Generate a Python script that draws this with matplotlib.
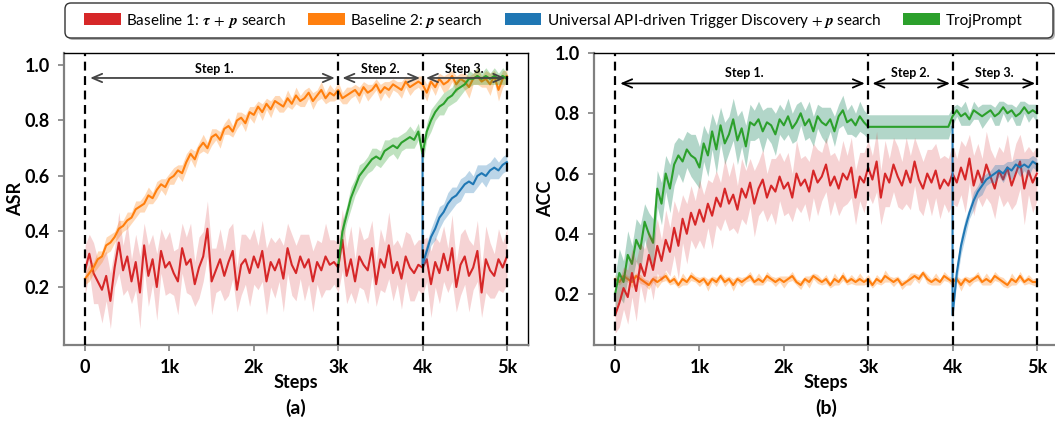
import numpy as np
import matplotlib
matplotlib.use("Agg")
import matplotlib.pyplot as plt
from matplotlib.patches import Patch, FancyBboxPatch
from matplotlib.transforms import IdentityTransform

plt.rcParams['font.family'] = ['Lato', 'DejaVu Sans']
plt.rcParams['mathtext.fontset'] = 'stix'

# ---------------- data ----------------
steps_full = np.arange(0, 5001, 50)
steps_s2 = np.arange(3000, 5001, 50)
steps_s3 = np.r_[4000, np.arange(4000, 5001, 50)]

labels = ["Baseline 1: $\\boldsymbol{\\tau}\\;+\\;\\boldsymbol{p}$ search",
          "Baseline 2: $\\boldsymbol{p}$ search",
          "Universal API-driven Trigger Discovery $+\\;\\boldsymbol{p}$ search",
          "TrojPrompt"]
colors = ["#d62728", "#ff7f0e", "#1f77b4", "#2ca02c"]

# ASR panel
asr_orange = [0.23,0.25,0.27,0.30,0.31,0.35,0.36,0.38,0.41,0.42,0.44,0.45,0.48,0.49,0.50,0.53,0.52,0.55,0.57,0.56,
              0.59,0.60,0.62,0.61,0.65,0.68,0.66,0.70,0.72,0.70,0.74,0.75,0.73,0.77,0.78,0.76,0.80,0.81,0.79,0.83,
              0.82,0.85,0.83,0.86,0.84,0.87,0.86,0.85,0.88,0.86,0.89,0.87,0.88,0.90,0.87,0.89,0.91,0.88,0.90,0.89,
              0.91,0.88,0.89,0.90,0.91,0.89,0.92,0.90,0.91,0.93,0.90,0.92,0.91,0.93,0.92,0.91,0.94,0.92,0.93,0.94,
              0.93,0.90,0.94,0.92,0.95,0.93,0.94,0.96,0.93,0.95,0.94,0.92,0.95,0.96,0.94,0.95,0.93,0.96,0.91,0.95,0.96]
asr_orange_sd = [0.02,0.03,0.02,0.03,0.02,0.03,0.03,0.02,0.03,0.02,0.03,0.02,0.03,0.02,0.03,0.03,0.02,0.03,0.02,0.03,
                 0.02,0.03,0.02,0.03,0.03,0.02,0.03,0.02,0.03,0.02,0.03,0.02,0.03,0.02,0.03,0.02,0.03,0.02,0.03,0.02,
                 0.03,0.02,0.03,0.02,0.03,0.02,0.03,0.02,0.03,0.02,0.03,0.02,0.03,0.02,0.03,0.02,0.03,0.02,0.03,0.02,
                 0.03,0.02,0.03,0.02,0.02,0.03,0.02,0.03,0.02,0.02,0.03,0.02,0.03,0.02,0.02,0.03,0.02,0.03,0.02,0.02,
                 0.03,0.03,0.02,0.03,0.02,0.03,0.03,0.02,0.03,0.02,0.03,0.04,0.02,0.03,0.02,0.03,0.04,0.02,0.04,0.03,0.02]
asr_red = [0.26,0.32,0.25,0.22,0.19,0.24,0.15,0.27,0.36,0.26,0.31,0.22,0.29,0.18,0.35,0.24,0.30,0.20,0.33,0.27,
           0.29,0.25,0.22,0.34,0.28,0.30,0.21,0.27,0.31,0.41,0.22,0.26,0.30,0.24,0.29,0.33,0.19,0.28,0.30,0.25,
           0.31,0.27,0.33,0.22,0.29,0.26,0.30,0.23,0.34,0.28,0.25,0.31,0.27,0.30,0.22,0.29,0.26,0.31,0.28,0.29,
           0.27,0.37,0.24,0.30,0.22,0.31,0.28,0.26,0.34,0.21,0.30,0.27,0.35,0.25,0.29,0.23,0.31,0.27,0.25,0.28,
           0.27,0.30,0.21,0.29,0.25,0.32,0.26,0.34,0.20,0.28,0.31,0.24,0.27,0.33,0.18,0.30,0.26,0.24,0.30,0.27,0.31]
asr_red_sd = [0.09,0.07,0.11,0.08,0.12,0.09,0.10,0.07,0.11,0.09,0.12,0.08,0.10,0.13,0.08,0.11,0.09,0.12,0.08,0.10,
              0.11,0.08,0.12,0.09,0.10,0.13,0.08,0.11,0.09,0.10,0.12,0.08,0.11,0.09,0.12,0.10,0.08,0.11,0.09,0.12,
              0.10,0.08,0.11,0.12,0.09,0.10,0.08,0.12,0.09,0.11,0.10,0.08,0.12,0.09,0.11,0.08,0.10,0.12,0.09,0.08,
              0.09,0.11,0.10,0.12,0.08,0.11,0.09,0.12,0.10,0.08,0.11,0.09,0.12,0.10,0.08,0.11,0.09,0.12,0.10,0.09,
              0.10,0.08,0.12,0.09,0.11,0.10,0.08,0.12,0.09,0.11,0.10,0.13,0.08,0.11,0.09,0.12,0.10,0.08,0.11,0.09,0.10]
asr_green = [0.28,0.40,0.46,0.52,0.56,0.60,0.62,0.64,0.66,0.67,0.66,0.69,0.70,0.71,0.70,0.72,0.73,0.74,0.73,0.76,
             0.68,0.76,0.80,0.83,0.85,0.86,0.88,0.89,0.91,0.92,0.93,0.95,0.95,0.96,0.95,0.96,0.95,0.96,0.95,0.96,0.95]
asr_green_sd = [0.02,0.04,0.03,0.04,0.03,0.04,0.03,0.03,0.04,0.03,0.03,0.04,0.03,0.03,0.04,0.03,0.03,0.04,0.03,0.03,
                0.04,0.03,0.04,0.03,0.03,0.04,0.03,0.03,0.04,0.03,0.02,0.03,0.02,0.03,0.02,0.03,0.02,0.03,0.02,0.03,0.02]
asr_blue = [0.68,0.28,0.33,0.38,0.41,0.45,0.47,0.50,0.52,0.53,0.55,0.57,0.58,0.57,0.60,0.61,0.60,0.62,0.63,0.62,0.64,0.65]
asr_blue_sd = [0.00,0.02,0.03,0.03,0.04,0.04,0.03,0.04,0.04,0.03,0.04,0.03,0.04,0.03,0.04,0.03,0.04,0.03,0.04,0.03,0.03,0.03]

# ACC panel
acc_orange = [0.25,0.24,0.26,0.25,0.24,0.26,0.25,0.24,0.23,0.25,0.24,0.25,0.26,0.24,0.25,0.23,0.25,0.24,0.26,0.25,
              0.24,0.25,0.23,0.25,0.24,0.26,0.24,0.25,0.23,0.25,0.24,0.25,0.26,0.24,0.25,0.24,0.26,0.25,0.24,0.25,
              0.24,0.25,0.26,0.24,0.23,0.25,0.24,0.26,0.25,0.24,0.25,0.23,0.25,0.24,0.26,0.24,0.25,0.24,0.25,0.24,
              0.25,0.23,0.25,0.24,0.26,0.25,0.24,0.25,0.23,0.24,0.25,0.26,0.25,0.27,0.25,0.24,0.25,0.24,0.26,0.25,
              0.24,0.25,0.23,0.25,0.24,0.25,0.26,0.24,0.25,0.24,0.26,0.25,0.24,0.23,0.25,0.24,0.26,0.24,0.25,0.24,0.24]
acc_orange_sd = [0.015,0.01,0.015,0.01,0.02,0.01,0.015,0.01,0.015,0.01,0.02,0.01,0.015,0.01,0.015,0.01,0.02,0.01,0.015,0.01,
                 0.015,0.01,0.02,0.01,0.015,0.01,0.015,0.01,0.02,0.01,0.015,0.01,0.015,0.01,0.02,0.01,0.015,0.01,0.015,0.01,
                 0.02,0.01,0.015,0.01,0.015,0.01,0.02,0.01,0.015,0.01,0.015,0.01,0.02,0.01,0.015,0.01,0.015,0.01,0.02,0.01,
                 0.015,0.01,0.015,0.01,0.02,0.01,0.015,0.01,0.015,0.01,0.02,0.01,0.015,0.01,0.015,0.01,0.02,0.01,0.015,0.01,
                 0.015,0.01,0.02,0.01,0.015,0.01,0.015,0.01,0.02,0.01,0.015,0.01,0.015,0.01,0.02,0.01,0.015,0.01,0.015,0.01,0.015]
acc_red = [0.13,0.17,0.22,0.19,0.27,0.21,0.30,0.26,0.33,0.28,0.36,0.31,0.38,0.34,0.42,0.36,0.45,0.40,0.47,0.43,
           0.48,0.44,0.50,0.46,0.52,0.49,0.55,0.50,0.53,0.48,0.55,0.52,0.57,0.50,0.55,0.58,0.52,0.56,0.54,0.59,
           0.55,0.57,0.52,0.60,0.56,0.58,0.54,0.61,0.57,0.59,0.63,0.56,0.59,0.55,0.60,0.58,0.62,0.52,0.59,0.57,
           0.62,0.58,0.64,0.52,0.60,0.57,0.63,0.59,0.56,0.61,0.57,0.64,0.58,0.55,0.60,0.57,0.61,0.55,0.58,0.56,
           0.60,0.57,0.62,0.58,0.65,0.56,0.61,0.57,0.63,0.59,0.55,0.61,0.58,0.62,0.56,0.60,0.64,0.55,0.61,0.57,0.60]
acc_red_sd = [0.06,0.08,0.07,0.09,0.08,0.10,0.07,0.09,0.08,0.10,0.09,0.07,0.10,0.08,0.09,0.11,0.08,0.10,0.09,0.08,
              0.10,0.09,0.08,0.11,0.09,0.08,0.10,0.09,0.11,0.08,0.10,0.09,0.08,0.11,0.09,0.10,0.08,0.09,0.11,0.08,
              0.09,0.10,0.08,0.11,0.09,0.08,0.10,0.09,0.11,0.08,0.09,0.10,0.08,0.09,0.11,0.08,0.10,0.09,0.08,0.10,
              0.09,0.08,0.10,0.09,0.11,0.08,0.09,0.10,0.08,0.11,0.09,0.08,0.10,0.09,0.08,0.11,0.09,0.10,0.08,0.09,
              0.10,0.08,0.09,0.11,0.08,0.10,0.09,0.08,0.11,0.09,0.10,0.08,0.09,0.11,0.08,0.10,0.09,0.12,0.08,0.10,0.09]
acc_green = [0.20,0.27,0.24,0.33,0.30,0.38,0.35,0.44,0.40,0.37,0.55,0.50,0.60,0.55,0.63,0.66,0.64,0.68,0.66,0.65,
             0.62,0.70,0.66,0.74,0.68,0.76,0.70,0.73,0.78,0.71,0.75,0.69,0.77,0.76,0.78,0.74,0.77,0.76,0.73,0.78,
             0.76,0.79,0.75,0.77,0.80,0.76,0.78,0.74,0.79,0.77,0.76,0.78,0.74,0.79,0.81,0.77,0.78,0.76,0.79,0.77,
             0.755,0.755,0.755,0.755,0.755,0.755,0.755,0.755,0.755,0.755,0.755,0.755,0.755,0.755,0.755,0.755,0.755,0.755,0.755,0.755,
             0.79,0.81,0.79,0.80,0.78,0.81,0.80,0.79,0.80,0.81,0.79,0.80,0.82,0.80,0.81,0.79,0.80,0.82,0.80,0.81,0.80]
acc_green_sd = [0.06,0.08,0.07,0.08,0.06,0.07,0.08,0.06,0.07,0.08,0.06,0.07,0.06,0.08,0.07,0.06,0.07,0.06,0.07,0.08,
                0.07,0.06,0.07,0.06,0.08,0.06,0.07,0.06,0.07,0.08,0.06,0.07,0.06,0.05,0.06,0.07,0.05,0.06,0.07,0.05,
                0.05,0.06,0.05,0.06,0.04,0.05,0.06,0.05,0.04,0.05,0.06,0.04,0.05,0.04,0.05,0.04,0.05,0.04,0.05,0.04,
                0.04,0.04,0.04,0.04,0.04,0.04,0.04,0.04,0.04,0.04,0.04,0.04,0.04,0.04,0.04,0.04,0.04,0.04,0.04,0.04,
                0.03,0.02,0.03,0.04,0.02,0.03,0.02,0.04,0.03,0.02,0.03,0.04,0.02,0.03,0.02,0.03,0.04,0.02,0.03,0.02,0.03]
acc_blue = [0.755,0.13,0.27,0.36,0.42,0.47,0.51,0.54,0.56,0.58,0.59,0.60,0.61,0.60,0.62,0.61,0.63,0.62,0.63,0.62,0.64,0.63]
acc_blue_sd = [0.00,0.02,0.03,0.03,0.03,0.02,0.03,0.02,0.03,0.02,0.02,0.03,0.02,0.03,0.02,0.03,0.02,0.03,0.02,0.03,0.02,0.02]

step_bounds = [0, 3000, 4000, 5000]
step_names = ["Step 1.", "Step 2.", "Step 3."]
xtick_vals = [0, 1000, 2000, 3000, 4000, 5000]
xtick_labels = ["0", "1k", "2k", "3k", "4k", "5k"]
ytick_vals = [0.2, 0.4, 0.6, 0.8, 1.0]

# ---------------- figure ----------------
W, H = 1055, 422
fig = plt.figure(figsize=(W / 100, H / 100), dpi=100)

def px_axes(x0, x1, y0, y1):
    return fig.add_axes([x0 / W, 1 - y1 / H, (x1 - x0) / W, (y1 - y0) / H])

axA = px_axes(64, 528, 53, 345)
axB = px_axes(594, 1058, 53, 345)

def series(ax, x, y, sd, c, band_alpha=0.25, band_color=None, z=2):
    x = np.asarray(x); y = np.asarray(y); sd = np.asarray(sd)
    ax.fill_between(x, y - sd, y + sd, color=band_color or c, alpha=band_alpha, lw=0, zorder=z)
    ax.plot(x, y, color=c, lw=1.5, zorder=z + 0.5)

# Panel (a)
series(axA, steps_full, asr_red, asr_red_sd, colors[0], band_alpha=0.2, z=2)
series(axA, steps_full, asr_orange, asr_orange_sd, colors[1], band_alpha=0.3, z=3)
series(axA, steps_s2, asr_green, asr_green_sd, colors[3], band_alpha=0.3, z=4)
series(axA, steps_s3, asr_blue, asr_blue_sd, colors[2], band_alpha=0.3, z=4)

# Panel (b)
series(axB, steps_full, acc_orange, acc_orange_sd, colors[1], band_alpha=0.3, z=2)
series(axB, steps_full, acc_green, acc_green_sd, colors[3], band_alpha=0.4, band_color="#3f9a78", z=3)
series(axB, steps_full, acc_red, acc_red_sd, colors[0], band_alpha=0.2, z=4)
series(axB, steps_s3, acc_blue, acc_blue_sd, colors[2], band_alpha=0.3, z=5)

def style(ax, ylim, ylabel, letter, arrow_y, text_y, arrow_color):
    ax.set_xlim(-250, 5250)
    ax.set_ylim(*ylim)
    for b in step_bounds:
        ax.axvline(b, color="k", ls=(0, (4, 2.5)), lw=1.6, zorder=6)
    gaps = [(60, -40), (50, -30), (40, -20)]
    for i, name in enumerate(step_names):
        a, b = step_bounds[i], step_bounds[i + 1]
        ax.annotate("", xy=(b + gaps[i][1], arrow_y), xytext=(a + gaps[i][0], arrow_y),
                    arrowprops=dict(arrowstyle="<->,head_length=0.7,head_width=0.3",
                                    color=arrow_color, lw=1.3, shrinkA=0, shrinkB=0), zorder=7)
        ax.text((a + b) / 2 + (30 if i == 0 else 0), text_y, name, ha="center", va="center",
                fontsize=9, fontweight="bold", zorder=8)
    ax.set_xticks(xtick_vals)
    ax.set_xticklabels(xtick_labels)
    ax.set_yticks(ytick_vals)
    ax.set_yticklabels([f"{v:.1f}" for v in ytick_vals])
    ax.tick_params(axis="both", length=4, width=1.2, color="#808080", pad=6, labelsize=13)
    for lab in ax.get_xticklabels() + ax.get_yticklabels():
        lab.set_fontweight("bold")
    for s in ["left", "bottom"]:
        ax.spines[s].set_color("#808080")
        ax.spines[s].set_linewidth(1.6)
    for s in ["top", "right"]:
        ax.spines[s].set_color("k")
        ax.spines[s].set_linewidth(1.0)
    ax.set_ylabel(ylabel, fontsize=13, fontweight="bold")
    ax.yaxis.set_label_coords(-40 / 464, 0.5)
    ax.text(0.5, -0.13, "Steps", transform=ax.transAxes, ha="center", va="center",
            fontsize=13, fontweight="bold")
    ax.text(0.5, -0.216, letter, transform=ax.transAxes, ha="center", va="center",
            fontsize=14, fontweight="bold")

style(axA, (-0.009, 1.043), "ASR", "(a)", 0.953, 0.985, "#444444")
style(axB, (0.031, 1.0), "ACC", "(b)", 0.899, 0.933, "k")

# legend frame (pixel coords, origin bottom-left)
fx0, fx1, fy0, fy1 = 65, 1053, H - 38, H - 3
shadow = FancyBboxPatch((fx0 + 2, fy0 - 2), fx1 - fx0, fy1 - fy0,
                        boxstyle="round,pad=0,rounding_size=6", transform=IdentityTransform(),
                        facecolor="#7f7f7f", edgecolor="none", alpha=0.6, zorder=0)
frame = FancyBboxPatch((fx0, fy0), fx1 - fx0, fy1 - fy0,
                       boxstyle="round,pad=0,rounding_size=6", transform=IdentityTransform(),
                       facecolor="white", edgecolor="#333333", lw=1.0, zorder=1)
fig.patches.extend([shadow, frame])

handles = [Patch(facecolor=c, edgecolor="none") for c in colors]
leg = fig.legend(handles, labels, loc="center left",
                 bbox_to_anchor=(84 / W, 1 - 20.5 / H, (1022 - 84) / W, 0),
                 mode="expand", ncol=4, fontsize=11, frameon=False,
                 handlelength=2.4, handleheight=0.8,
                 handletextpad=0.35, borderpad=0, borderaxespad=0)
leg.set_zorder(5)

fig.savefig("out.png", dpi=100)
